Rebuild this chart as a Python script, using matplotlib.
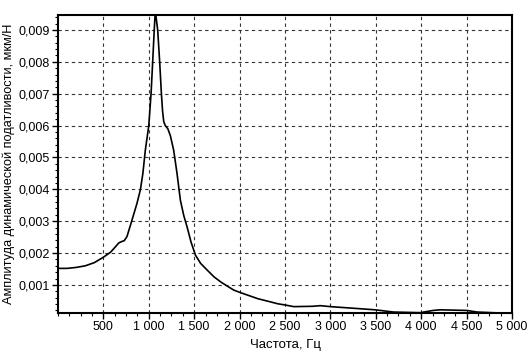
import matplotlib
matplotlib.use("Agg")
import matplotlib.pyplot as plt
from matplotlib.ticker import FixedLocator, MultipleLocator, FuncFormatter

# frequency, Hz
freq = [0, 100, 200, 300, 400, 500, 580, 640, 670, 700, 730, 760, 805, 870, 907,
        935, 962, 1000, 1025, 1043, 1060, 1072, 1085, 1098, 1120, 1139, 1152,
        1165, 1182, 1210, 1238, 1274, 1311, 1348, 1385, 1421, 1465, 1513, 1570,
        1642, 1720, 1800, 1935, 2000, 2200, 2339, 2420, 2504, 2596, 2800, 2890,
        3000, 3200, 3495, 3694, 3990, 4130, 4210, 4505, 4615, 4872]
# amplitude of dynamic compliance, um/N
amp = [0.00152, 0.00152, 0.00155, 0.00160, 0.00170, 0.00187, 0.00203, 0.00222,
       0.00232, 0.00236, 0.00239, 0.00252, 0.00294, 0.00356, 0.00398, 0.00450,
       0.00523, 0.00600, 0.00700, 0.00800, 0.00900, 0.00960, 0.00930, 0.00900,
       0.00800, 0.00700, 0.00645, 0.00612, 0.00600, 0.00590, 0.00568, 0.00523,
       0.00450, 0.00366, 0.00318, 0.00283, 0.00235, 0.00194, 0.00168, 0.00147,
       0.00125, 0.00108, 0.00084, 0.00077, 0.00057, 0.00047, 0.00041, 0.00037,
       0.00032, 0.00033, 0.00035, 0.00032, 0.00028, 0.00022, 0.00015, 0.00013,
       0.00020, 0.00022, 0.00020, 0.00015, 0.00012]

x_ticks = [500, 1000, 1500, 2000, 2500, 3000, 3500, 4000, 4500, 5000]
y_ticks = [0.001, 0.002, 0.003, 0.004, 0.005, 0.006, 0.007, 0.008, 0.009]

plt.rcParams['font.family'] = ['Liberation Sans', 'DejaVu Sans']

fig = plt.figure(figsize=(5.3, 3.54), dpi=100)
ax = fig.add_axes([0.1094, 0.1158, 0.8566, 0.8418])

ax.plot(freq, amp, color='black', lw=1.2)

ax.set_xlim(0, 5000)
ax.set_ylim(0.00012, 0.00947)

ax.xaxis.set_major_locator(FixedLocator(x_ticks))
ax.yaxis.set_major_locator(FixedLocator(y_ticks))
ax.xaxis.set_minor_locator(MultipleLocator(125))
ax.yaxis.set_minor_locator(MultipleLocator(0.0002))
ax.xaxis.set_major_formatter(FuncFormatter(lambda v, p: f"{int(round(v)):,}".replace(',', ' ')))
ax.yaxis.set_major_formatter(FuncFormatter(lambda v, p: f"{v:.3f}".replace('.', ',')))

ax.tick_params(which='major', length=4, width=1, labelsize=9, color='black', pad=2)
ax.tick_params(which='minor', length=2, width=0.8, color='black')

ax.grid(True, which='major', color='#333333', linestyle=(0, (3, 3)), lw=0.8)

for s in ax.spines.values():
    s.set_linewidth(1.5)
    s.set_color('black')

ax.set_xlabel("Частота, Гц", fontsize=9.5, labelpad=4)
ax.set_ylabel("Амплитуда динамической податливости, мкм/Н", fontsize=9.2, labelpad=2)

fig.savefig("out.png", dpi=100)
